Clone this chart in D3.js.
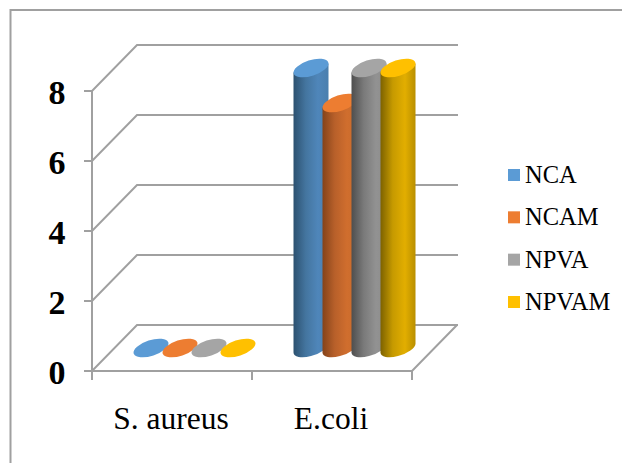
<!DOCTYPE html>
<html>
<head>
<meta charset="utf-8">
<script src="https://cdn.jsdelivr.net/npm/d3@7"></script>
<style>
  html, body { margin: 0; padding: 0; background: #fff; overflow: hidden; }
  svg { display: block; font-family: 'Liberation Serif', serif; }
</style>
</head>
<body>
<svg id="chart" width="622" height="463"></svg>
<script>
const CATEGORIES = ['S. aureus', 'E.coli'];
const SERIES = ['NCA', 'NCAM', 'NPVA', 'NPVAM'];
const NCA = [0, 8];
const NCAM = [0, 7];
const NPVA = [0, 8];
const NPVAM = [0, 8];
const VALUES = [NCA, NCAM, NPVA, NPVAM];
const Y_TICKS = [0, 2, 4, 6, 8];

const TOPS = ['#5b9bd5', '#ed7d31', '#a5a5a5', '#ffc000'];
const SHADES = [
  ['#2c5170', '#44759f', '#4f86ba', '#4a7fae'],
  ['#84431a', '#b8602a', '#d06e2e', '#c76a2c'],
  ['#4e4e4e', '#7a7a7a', '#929292', '#8c8c8c'],
  ['#7d6200', '#c69a00', '#e2ae00', '#b98f00'],
];
const GRID = '#a0a0a0';

const SVG = d3.select('#chart');
const DEPTH_X = 45;
const DEPTH_Y = -46;

const X_SCALE = d3.scaleBand().domain(CATEGORIES).range([92, 412]);
const SERIES_SCALE = d3.scaleBand().domain(SERIES).range([-58, 58]);
const Y_SCALE = d3.scaleLinear().domain([0, 8]).range([371, 91]);

// gradients for the cylinder sides
const DEFS = SVG.append('defs');
SHADES.forEach((stops, i) => {
  const grad = DEFS.append('linearGradient').attr('id', `side${i}`);
  [0, 0.35, 0.7, 1].forEach((o, j) => {
    grad.append('stop').attr('offset', o).attr('stop-color', stops[j]);
  });
});

// outer frame
SVG.append('path')
  .attr('d', 'M10.5,463V10H622')
  .attr('fill', 'none')
  .attr('stroke', GRID)
  .attr('stroke-width', 2);

// gridlines, floor and walls
const GRID_G = SVG.append('g')
  .attr('fill', 'none')
  .attr('stroke', GRID)
  .attr('stroke-width', 2);

Y_TICKS.forEach((t) => {
  const y = Y_SCALE(t);
  GRID_G.append('path').attr(
    'd',
    `M84,${y}H92L${92 + DEPTH_X},${y + DEPTH_Y}H${412 + DEPTH_X + 1}`
  );
});
GRID_G.append('line')
  .attr('x1', 92).attr('x2', 92)
  .attr('y1', Y_SCALE(8)).attr('y2', Y_SCALE(0));
GRID_G.append('path').attr(
  'd',
  `M92,${Y_SCALE(0)}H412L${412 + DEPTH_X},${Y_SCALE(0) + DEPTH_Y}`
);
[92, 252, 412].forEach((x) => {
  GRID_G.append('line')
    .attr('x1', x).attr('x2', x)
    .attr('y1', Y_SCALE(0)).attr('y2', Y_SCALE(0) + 9);
});

// y labels
SVG.append('g')
  .selectAll('text')
  .data(Y_TICKS)
  .join('text')
  .text((d) => d)
  .attr('x', 57)
  .attr('y', (d) => Y_SCALE(d) + 12.5)
  .attr('text-anchor', 'middle')
  .style('font-size', '34px')
  .style('font-weight', 'bold');

// x labels
SVG.append('g')
  .selectAll('text')
  .data(CATEGORIES)
  .join('text')
  .text((d) => d)
  .attr('x', (d) => X_SCALE(d) + X_SCALE.bandwidth() / 2 - 1)
  .attr('y', 429)
  .attr('text-anchor', 'middle')
  .style('font-size', '31.5px');

// cylinders
const RX = 18.2;
const RY = 7.8;
const TILT = -18;
const HALF_W = 17.5;
const TANGENT_Y = 4.56;
const MID_X = DEPTH_X / 2;
const MID_Y = DEPTH_Y / 2;

CATEGORIES.forEach((cat, c) => {
  SERIES.forEach((name, s) => {
    const cx = X_SCALE(cat) + X_SCALE.bandwidth() / 2 + SERIES_SCALE(name) + SERIES_SCALE.bandwidth() / 2 + MID_X;
    const yTop = Y_SCALE(VALUES[s][c]) + MID_Y;
    const yBase = Y_SCALE(0) + MID_Y;
    if (VALUES[s][c] > 0) {
      SVG.append('path')
        .attr(
          'd',
          `M${cx - HALF_W},${yTop + TANGENT_Y}V${yBase + TANGENT_Y}` +
            `A${RX},${RY} ${TILT} 0 0 ${cx + HALF_W},${yBase - TANGENT_Y}` +
            `V${yTop - TANGENT_Y}Z`
        )
        .attr('fill', `url(#side${s})`);
    }
    SVG.append('ellipse')
      .attr('rx', RX)
      .attr('ry', RY)
      .attr('transform', `translate(${cx},${yTop}) rotate(${TILT})`)
      .attr('fill', TOPS[s]);
  });
});

// legend
const LEGEND_Y = d3.scalePoint().domain(SERIES).range([175, 302]);
const LEGEND = SVG.append('g')
  .selectAll('g')
  .data(SERIES)
  .join('g')
  .attr('transform', (d) => `translate(508,${LEGEND_Y(d)})`);
LEGEND.append('rect')
  .attr('y', -6)
  .attr('width', 12)
  .attr('height', 12)
  .attr('fill', (d, i) => TOPS[i]);
LEGEND.append('text')
  .text((d) => d)
  .attr('x', 17)
  .attr('y', 8)
  .style('font-size', '24.5px');
</script>
</body>
</html>
